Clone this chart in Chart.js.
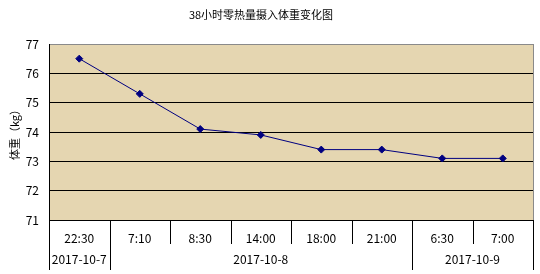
<!DOCTYPE html>
<html>
<head>
<meta charset="utf-8">
<script src="https://cdn.jsdelivr.net/npm/chart.js@4"></script>
<style>
	html, body { margin: 0; padding: 0; background: #fff; }
	#wrap { width: 540px; height: 274px; }
</style>
</head>
<body>
<div id="wrap"><canvas id="chart1"></canvas></div>
<script>
// 데이터
const chartTitle = '38小时零热量摄入体重变化图';
const times = ['22:30', '7:10', '8:30', '14:00', '18:00', '21:00', '6:30', '7:00'];
const dates = ['2017-10-7', '2017-10-8', '2017-10-9'];
const dateSpans = [1, 5, 2]; // 날짜별 시간 개수
const weights = [76.5, 75.3, 74.1, 73.9, 73.4, 73.4, 73.1, 73.1];
const yMin = 71, yMax = 77;

const FONT = '"Noto Sans CJK SC", "Noto Sans", sans-serif';
Chart.defaults.font.family = FONT;
Chart.defaults.color = '#000';

// 플롯 배경 + 제목 + 2단 x축
const excelLook = {
	id: 'excelLook',
	beforeDraw(chart) {
		const { ctx, chartArea: a } = chart;
		ctx.save();
		ctx.fillStyle = '#e5d6b1';
		ctx.fillRect(a.left, a.top, a.right - a.left, a.bottom - a.top);
		ctx.restore();
	},
	afterDraw(chart) {
		const { ctx, chartArea: a } = chart;
		const x = chart.scales.x;
		const half = (x.getPixelForValue(1) - x.getPixelForValue(0)) / 2;
		ctx.save();
		// 오른쪽 테두리
		ctx.strokeStyle = '#8a8a8a';
		ctx.lineWidth = 1;
		ctx.beginPath();
		ctx.moveTo(Math.round(a.right) + 0.5, a.top);
		ctx.lineTo(Math.round(a.right) + 0.5, a.bottom);
		ctx.stroke();

		// 구분선
		const dateBounds = [0];
		let acc = 0;
		dateSpans.forEach(n => { acc += n; dateBounds.push(acc); });
		ctx.strokeStyle = '#000';
		for (let i = 0; i <= times.length; i++) {
			const px = Math.round(x.getPixelForValue(i) - half) + 0.5;
			const long = dateBounds.includes(i);
			ctx.beginPath();
			ctx.moveTo(px, a.bottom);
			ctx.lineTo(px, long ? a.bottom + 50 : a.bottom + 24);
			ctx.stroke();
		}

		// 시간 라벨
		ctx.fillStyle = '#000';
		ctx.font = '12px ' + FONT;
		ctx.textAlign = 'center';
		ctx.textBaseline = 'middle';
		times.forEach((t, i) => ctx.fillText(t, x.getPixelForValue(i), a.bottom + 18));

		// 날짜 라벨
		let start = 0;
		dates.forEach((d, j) => {
			const end = start + dateSpans[j] - 1;
			const cx = (x.getPixelForValue(start) + x.getPixelForValue(end)) / 2;
			ctx.fillText(d, cx, a.bottom + 39);
			start += dateSpans[j];
		});

		// 제목
		ctx.font = '11px ' + FONT;
		ctx.fillText(chartTitle, 261, 15);
		ctx.restore();
	}
};

new Chart(document.getElementById('chart1'), {
	type: 'line',
	data: {
		labels: times,
		datasets: [{
			data: weights,
			borderColor: '#000080',
			borderWidth: 1,
			backgroundColor: '#000080',
			pointStyle: 'rectRot',
			pointRadius: 3.5,
			pointBackgroundColor: '#000080',
			pointBorderColor: '#000080',
			tension: 0
		}]
	},
	options: {
		responsive: true,
		maintainAspectRatio: false,
		animation: false,
		layout: { padding: { top: 44, right: 7, bottom: 0, left: 0 } },
		plugins: {
			legend: { display: false },
			title: { display: false },
			tooltip: { enabled: false }
		},
		scales: {
			x: {
				type: 'category',
				offset: true,
				grid: { display: false },
				border: { display: false },
				ticks: { display: false },
				afterFit(scale) { scale.height = 54; }
			},
			y: {
				min: yMin,
				max: yMax,
				ticks: { stepSize: 1, padding: 10, font: { size: 12 } },
				grid: {
					drawTicks: false,
					color: ctx => (ctx.tick && ctx.tick.value === yMax) ? '#8a8a8a' : '#000'
				},
				border: { color: '#000', width: 1 },
				title: {
					display: true,
					text: '体重（kg）',
					font: { size: 11 },
					padding: { top: 8, bottom: 0 }
				},
				afterFit(scale) { scale.width = 49; }
			}
		}
	},
	plugins: [excelLook]
});
</script>
</body>
</html>
